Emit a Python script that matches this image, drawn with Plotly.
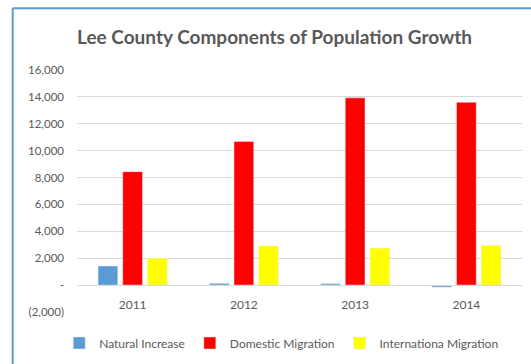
import plotly.graph_objects as go

years = ["2011", "2012", "2013", "2014"]
natural_increase = [1420, 130, 110, -150]
domestic_migration = [8440, 10690, 13930, 13600]
international_migration = [2000, 2920, 2750, 2950]

y_tickvals = [-2000, 0, 2000, 4000, 6000, 8000, 10000, 12000, 14000, 16000]
y_ticktext = ["(2,000)", "-", "2,000", "4,000", "6,000", "8,000", "10,000", "12,000", "14,000", "16,000"]

FONT = "Lato"
TXT = "#595959"

fig = go.Figure()
fig.add_bar(x=years, y=natural_increase, name="Natural Increase", marker_color="#5B9BD5")
fig.add_bar(x=years, y=domestic_migration, name="Domestic Migration", marker_color="#FF0000")
fig.add_bar(x=years, y=international_migration, name="Internationa Migration", marker_color="#FFFF00")

fig.update_layout(
    width=531, height=364,
    margin=dict(l=77, r=9, t=70, b=52, autoexpand=False),
    paper_bgcolor="white", plot_bgcolor="white",
    barmode="group", bargap=0.334, bargroupgap=0.2,
    font=dict(family=FONT, color=TXT, size=12),
    title=dict(text="<b>Lee County Components of Population Growth</b>",
               x=0.517, xanchor="center", y=0.898, yanchor="middle",
               xref="container", yref="container",
               font=dict(family=FONT, size=19, color=TXT)),
    legend=dict(orientation="h", x=-0.04, xanchor="left", y=-0.128, yanchor="middle",
                font=dict(family=FONT, size=12, color=TXT), itemwidth=30,
                bgcolor="rgba(0,0,0,0)"),
    showlegend=True,
)
fig.update_yaxes(range=[-2000, 16000], tickvals=y_tickvals, ticktext=y_ticktext,
                 showgrid=True, gridcolor="#D9D9D9", gridwidth=1,
                 zeroline=True, zerolinecolor="#D9D9D9", zerolinewidth=1,
                 ticks="", ticklabelstandoff=12, tickfont=dict(size=11.5, color=TXT),
                 fixedrange=True, automargin=False)
fig.update_xaxes(anchor="free", position=2000/18000, showline=True, linecolor="#D9D9D9",
                 ticks="", ticklabelstandoff=8, tickfont=dict(size=12, color=TXT),
                 showgrid=False, automargin=False)

border = "#5B9BD5"
x_left = (12.7 - 77) / 445
y_top = (312 - 8.3) / 242
fig.add_shape(type="line", xref="paper", yref="paper", x0=x_left, x1=1.2, y0=y_top, y1=y_top,
              line=dict(color=border, width=2))
fig.add_shape(type="line", xref="paper", yref="paper", x0=x_left, x1=x_left, y0=y_top, y1=-0.4,
              line=dict(color=border, width=2))

fig.write_html("out.html", config={"displayModeBar": False},
               post_script="document.body.style.margin='0';document.body.style.overflow='hidden';")
